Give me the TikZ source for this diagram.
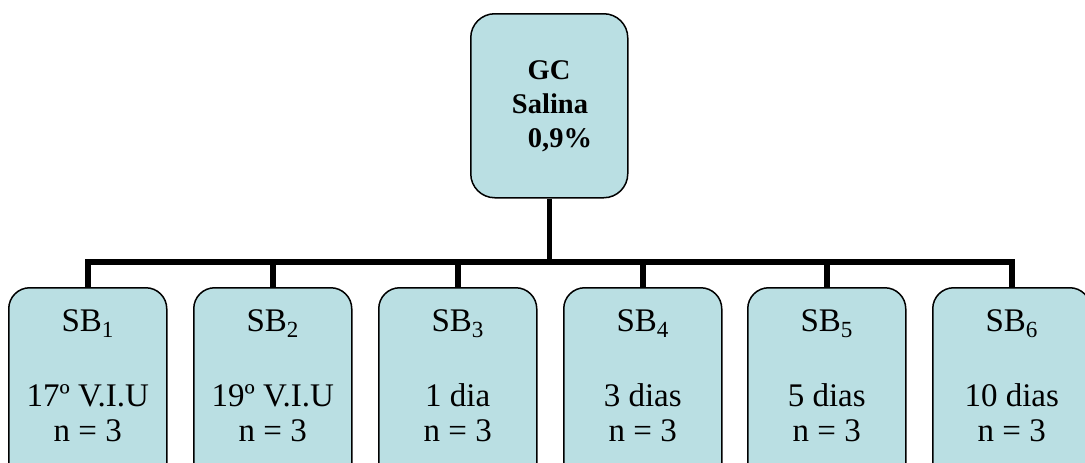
\documentclass[tikz,border=0pt]{standalone}
\usepackage{fontspec}
\setmainfont{Liberation Serif}
\definecolor{boxfill}{HTML}{BADFE3}
\begin{document}
\begin{tikzpicture}[x=1pt,y=-1pt,
  topbox/.style={draw=black, line width=1.5pt, fill=boxfill, rounded corners=24pt, inner sep=0pt, anchor=north west, minimum width=157pt, minimum height=184pt},
  sbbox/.style={draw=black, line width=1.5pt, fill=boxfill, rounded corners=21pt, inner sep=0pt, anchor=north west, minimum width=158pt, minimum height=200pt},
  conn/.style={line width=5.5pt, line join=miter},
  toptxt/.style={font=\bfseries\fontsize{28.5}{28.5}\selectfont, anchor=base, inner sep=0pt},
  sbtxt/.style={font=\fontsize{33}{33}\selectfont, anchor=base, inner sep=0pt}]
\useasboundingbox (0,0) rectangle (1085,463);
\clip (0,0) rectangle (1085,463);
\coordinate (bar) at (0,262);
% top box
\node[topbox] (gc) at (470,13) {};
\node[toptxt] (gc1) at (549,79) {GC};
\node[toptxt] (gc2) at (550,113) {Salina};
\node[toptxt] (gc3) at (560,147) {0,9\%};
% bottom boxes
\foreach \i/\l/\t in {1/8/17º V.I.U, 2/193/19º V.I.U, 3/378/1 dia, 4/563/3 dias, 5/747/5 dias, 6/932/10 dias}{
  \node[sbbox] (sb\i) at (\l,287) {};
  \node[sbtxt, yshift=-44pt] (sba\i) at (sb\i.north) {SB\textsubscript{\i}};
  \node[sbtxt, yshift=-119pt] (sbb\i) at (sb\i.north) {\t};
  \node[sbtxt, yshift=-154pt] (sbc\i) at (sb\i.north) {n = 3};
}
% connectors
\draw[conn] (gc.south) -- (gc.south |- bar);
\draw[conn] (sb1.north) |- (sb6.north |- bar) -- (sb6.north);
\foreach \i in {2,...,5}{
  \draw[conn] (sb\i.north) -- (sb\i.north |- bar);
}
\end{tikzpicture}
\end{document}
